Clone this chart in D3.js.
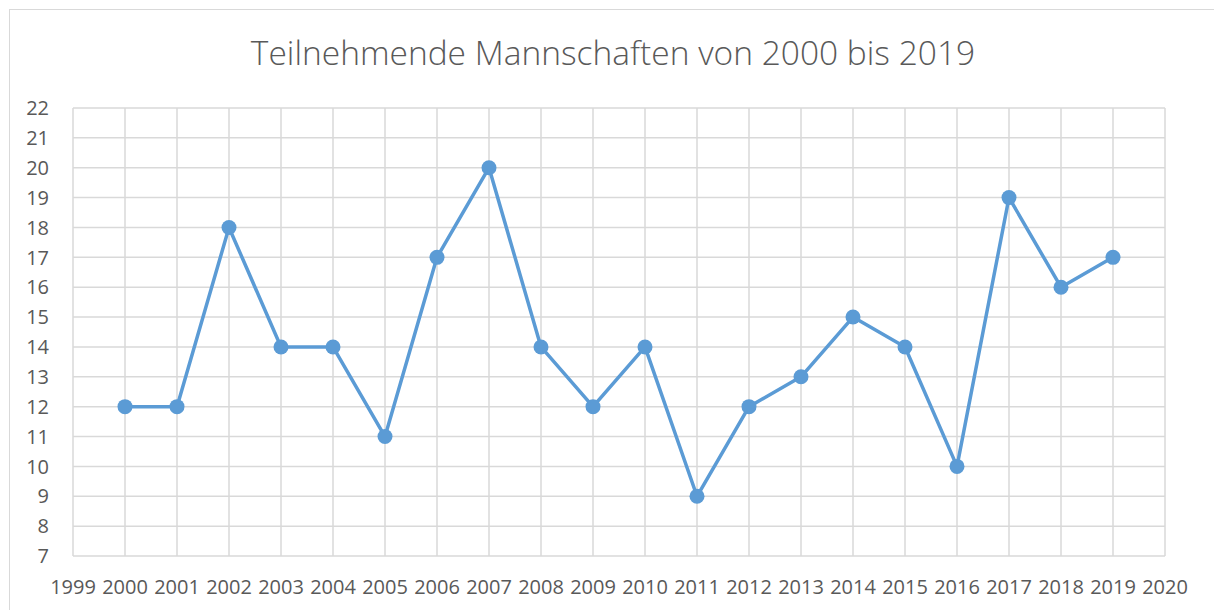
<!DOCTYPE html>
<html>
<head>
  <meta charset="UTF-8">
  <style>
    body { margin: 0; background: #fff; }
    text { font-family: "Open Sans", "Noto Sans", sans-serif; fill: #595959; }
  </style>
</head>
<body>
<svg></svg>
<script src="https://d3js.org/d3.v7.min.js"></script>
<script>

let width = 1214, height = 610;

// data
let years = [2000, 2001, 2002, 2003, 2004, 2005, 2006, 2007, 2008, 2009,
             2010, 2011, 2012, 2013, 2014, 2015, 2016, 2017, 2018, 2019];
let teams = [12, 12, 18, 14, 14, 11, 17, 20, 14, 12,
             14, 9, 12, 13, 15, 14, 10, 19, 16, 17];
let xTicks = d3.range(1999, 2021);
let yTicks = d3.range(7, 23);
let title = "Teilnehmende Mannschaften von 2000 bis 2019";

let svg = d3.select("svg")
    .attr("width", width)
    .attr("height", height);

// chart frame
svg.append("rect")
    .attr("x", 9.5).attr("y", 9.5)
    .attr("width", 1220).attr("height", 620)
    .attr("fill", "none")
    .attr("stroke", "#d9d9d9")
    .attr("stroke-width", 1);

let x = d3.scaleLinear().domain([1999, 2020]).range([73, 1165]);
let y = d3.scaleLinear().domain([7, 22]).range([556, 108]);

// gridlines
svg.append("g")
    .selectAll("line")
    .data(yTicks)
    .enter().append("line")
    .attr("x1", x(1999)).attr("x2", x(2020))
    .attr("y1", d => y(d)).attr("y2", d => y(d))
    .attr("stroke", "#d9d9d9")
    .attr("stroke-width", 1.5);

svg.append("g")
    .selectAll("line")
    .data(xTicks)
    .enter().append("line")
    .attr("x1", d => x(d)).attr("x2", d => x(d))
    .attr("y1", y(22)).attr("y2", y(7))
    .attr("stroke", "#d9d9d9")
    .attr("stroke-width", 1.5);

// axis labels
svg.append("g")
    .selectAll("text")
    .data(yTicks)
    .enter().append("text")
    .attr("x", 49)
    .attr("y", d => y(d))
    .attr("dy", "0.36em")
    .attr("text-anchor", "end")
    .style("font-size", "20px")
    .text(d => d);

svg.append("g")
    .selectAll("text")
    .data(xTicks)
    .enter().append("text")
    .attr("x", d => x(d))
    .attr("y", 587)
    .attr("dy", "0.36em")
    .attr("text-anchor", "middle")
    .style("font-size", "20px")
    .text(d => d);

// title
svg.append("text")
    .attr("x", 613)
    .attr("y", 65)
    .attr("text-anchor", "middle")
    .style("font-size", "33.5px")
    .style("font-weight", "300")
    .text(title);

// line + markers
let pts = years.map((d, i) => [d, teams[i]]);

svg.append("path")
    .datum(pts)
    .attr("fill", "none")
    .attr("stroke", "#5b9bd5")
    .attr("stroke-width", 3.5)
    .attr("stroke-linejoin", "round")
    .attr("d", d3.line().x(d => x(d[0])).y(d => y(d[1])));

svg.append("g")
    .selectAll("circle")
    .data(pts)
    .enter().append("circle")
    .attr("cx", d => x(d[0]))
    .attr("cy", d => y(d[1]))
    .attr("r", 7.5)
    .attr("fill", "#5b9bd5");

</script>
</body>
</html>
